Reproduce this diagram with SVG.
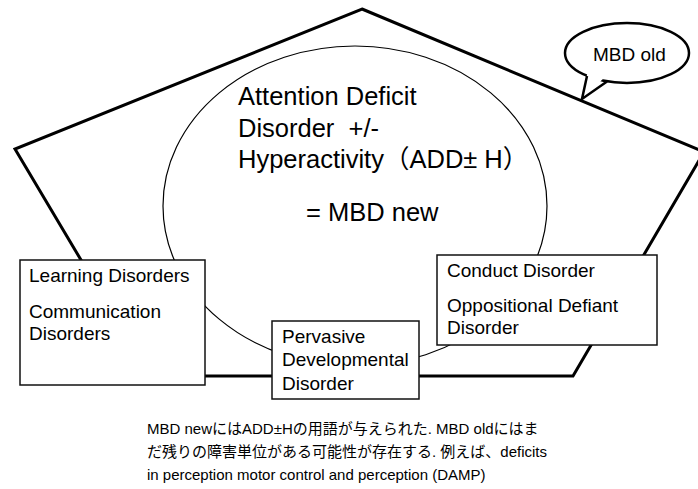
<svg xmlns="http://www.w3.org/2000/svg" width="698" height="489" viewBox="0 0 698 489">
<style>
.t{font-family:"Liberation Sans","Noto Sans CJK JP",Arial,sans-serif;fill:#000}
.big{font-size:25.5px;white-space:pre}
.sm{font-size:19px}
.cap{font-size:15px}
.box{fill:#fff;stroke:#111;stroke-width:1.5}
.thick{fill:none;stroke:#000;stroke-width:3;stroke-linejoin:miter}
</style>
<rect width="698" height="489" fill="#fff"/>
<g id="mbd-old-region">
<polygon class="thick" points="362,9 704,152 573,376 150,376 15,149"/>
</g>
<g id="add-h">
<ellipse cx="355" cy="206" rx="192" ry="160" fill="none" stroke="#000" stroke-width="1.2"/>
<text class="t big" x="238" y="105">Attention Deficit</text>
<text class="t big" x="238" y="137">Disorder  +/-</text>
<text class="t big" x="238" y="168">Hyperactivity（ADD± H）</text>
<text class="t big" x="306" y="221">= MBD new</text>
</g>
<g id="learning">
<rect class="box" x="20" y="260" width="185" height="125"/>
<text class="t sm" x="29" y="282">Learning Disorders</text>
<text class="t sm" x="29" y="318">Communication</text>
<text class="t sm" x="29" y="340">Disorders</text>
</g>
<g id="conduct">
<rect class="box" x="437" y="255" width="220" height="90"/>
<text class="t sm" x="447" y="277">Conduct Disorder</text>
<text class="t sm" x="447" y="312">Oppositional Defiant</text>
<text class="t sm" x="447" y="334">Disorder</text>
</g>
<g id="pervasive">
<rect class="box" x="272" y="321" width="147" height="78"/>
<text class="t sm" x="282" y="343">Pervasive</text>
<text class="t sm" x="282" y="366">Developmental</text>
<text class="t sm" x="282" y="390">Disorder</text>
</g>
<g id="bubble">
<ellipse cx="627" cy="53" rx="62" ry="30" fill="#fff" stroke="#000" stroke-width="2.5"/>
<polygon points="588,70 582,99 606,76" fill="#fff"/>
<polyline points="587,75.9 582,99 607,81.4" fill="none" stroke="#000" stroke-width="2.5" stroke-linejoin="miter"/>
<text class="t sm" x="593" y="61">MBD old</text>
</g>
<g id="connectors"></g>
<g id="caption">
<text class="t cap" x="147" y="434">MBD newにはADD±Hの用語が与えられた. MBD oldにはま</text>
<text class="t cap" x="147" y="457">だ残りの障害単位がある可能性が存在する. 例えば、deficits</text>
<text class="t cap" x="147" y="480">in perception motor control and perception (DAMP)</text>
</g>
</svg>
